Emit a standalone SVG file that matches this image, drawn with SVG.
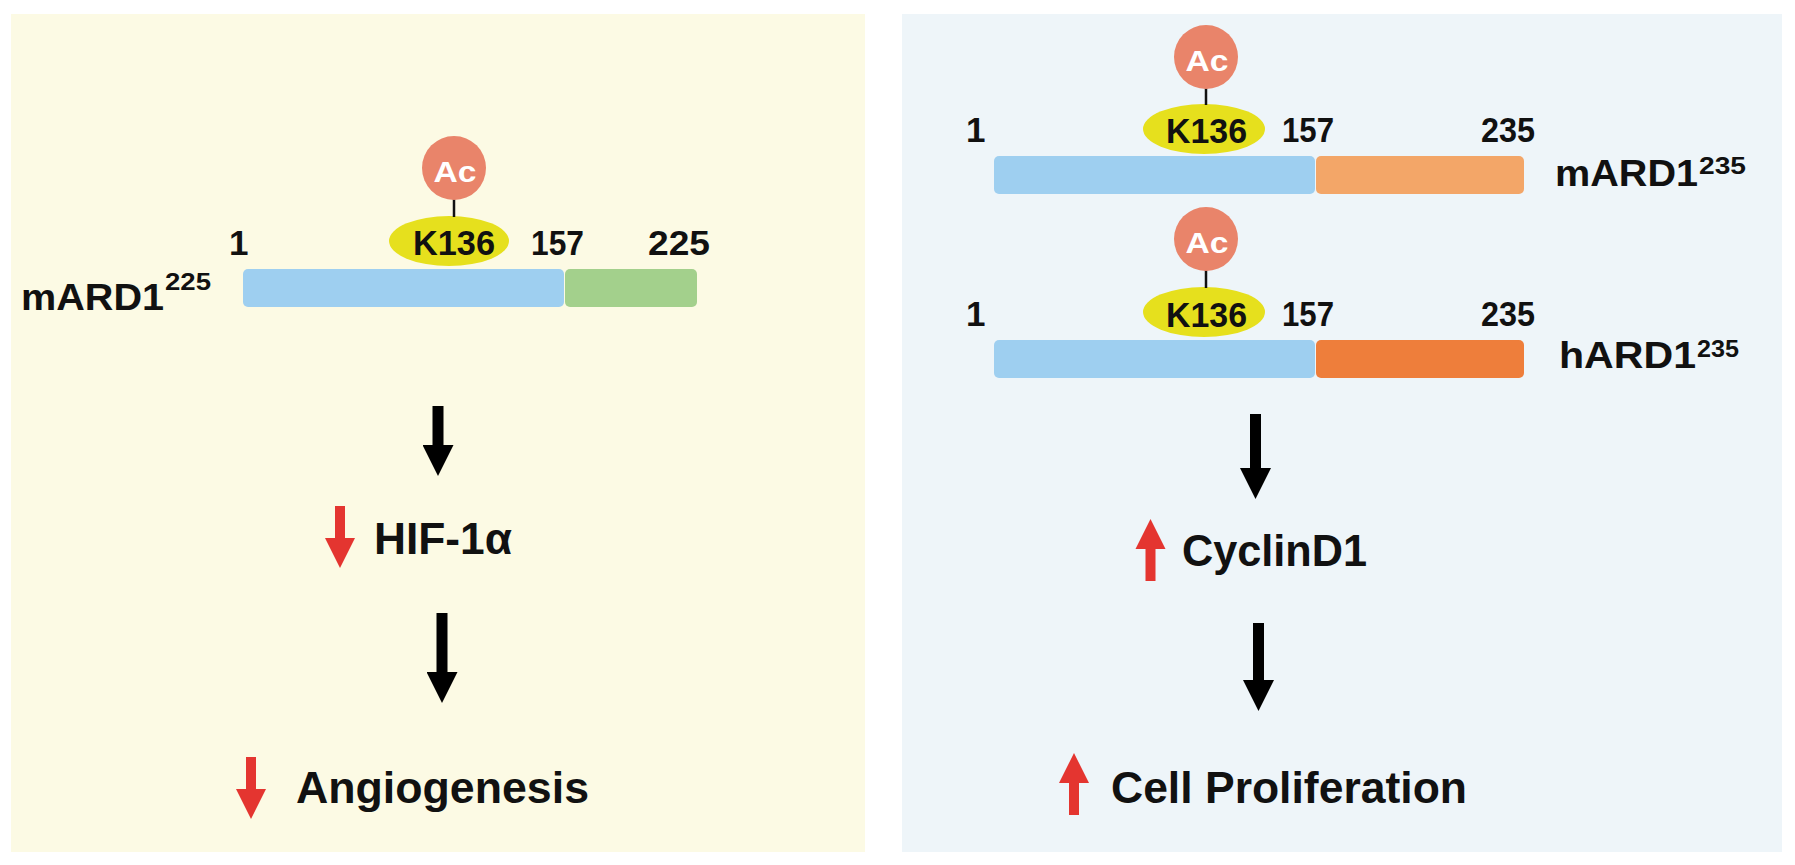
<svg xmlns="http://www.w3.org/2000/svg" xmlns:xlink="http://www.w3.org/1999/xlink" width="1795" height="865" viewBox="0 0 1795 865">
<style>
text{font-family:"Liberation Sans",Arial,sans-serif;font-weight:bold;fill:#111}
.num{font-size:35px}
.ac{font-size:29px;fill:#fff;text-anchor:middle}
.lbl{font-size:36px}
.sup{font-size:23px}
.big{font-size:45px}
.blue{fill:#9ecff0}
.k{fill:#e6e01d}
.acc{fill:#e9846a}
.tie{stroke:#111;stroke-width:2.5}
.conn{stroke:#000;stroke-width:11;marker-end:url(#ah)}
.red{fill:#e43530}
</style>
<defs>
<marker id="ah" markerUnits="userSpaceOnUse" markerWidth="31" markerHeight="31" refX="0" refY="15.5" orient="auto" viewBox="0 0 31 31">
<path d="M0,0 L31,15.5 L0,31 Z" fill="#000"/>
</marker>
<path id="redDown" d="M-5,0 H5 V32 H15 L0,62 L-15,32 H-5 Z"/>
</defs>
<rect width="1795" height="865" fill="#fff"/>
<rect id="panelLeft" x="11" y="14" width="854" height="838" fill="#fcfae4"/>
<rect id="panelRight" x="902" y="14" width="880" height="838" fill="#eef5f9"/>

<g id="left-mARD1-225">
<rect class="blue" x="243" y="269" width="321" height="38" rx="5"/>
<rect x="565" y="269" width="132" height="38" rx="5" fill="#a3d08c"/>
<ellipse class="k" cx="449" cy="241" rx="60" ry="25"/>
<line class="tie" x1="454" y1="199" x2="454" y2="217"/>
<circle class="acc" cx="454" cy="168" r="32"/>
<text class="ac" x="455" y="182" textLength="43" lengthAdjust="spacingAndGlyphs">Ac</text>
<text class="num" x="413" y="255" textLength="82" lengthAdjust="spacingAndGlyphs">K136</text>
<text class="num" x="229" y="255">1</text>
<text class="num" x="531" y="255" textLength="53" lengthAdjust="spacingAndGlyphs">157</text>
<text class="num" x="648" y="255" textLength="62" lengthAdjust="spacingAndGlyphs">225</text>
<text class="lbl" x="21" y="310" textLength="143" lengthAdjust="spacingAndGlyphs">mARD1</text>
<text class="sup" x="165" y="290" textLength="46" lengthAdjust="spacingAndGlyphs">225</text>
</g>

<g id="left-HIF1a">
<use xlink:href="#redDown" class="red" transform="translate(340,506)"/>
<text class="big" x="374" y="554" textLength="138" lengthAdjust="spacingAndGlyphs">HIF-1α</text>
</g>

<g id="left-angiogenesis">
<use xlink:href="#redDown" class="red" transform="translate(251,757)"/>
<text class="big" x="296" y="803" textLength="293" lengthAdjust="spacingAndGlyphs">Angiogenesis</text>
</g>

<g id="right-mARD1-235">
<rect class="blue" x="994" y="156" width="321" height="38" rx="5"/>
<rect x="1316" y="156" width="208" height="38" rx="5" fill="#f3a668"/>
<ellipse class="k" cx="1204" cy="129" rx="61" ry="25"/>
<line class="tie" x1="1206" y1="88" x2="1206" y2="105"/>
<circle class="acc" cx="1206" cy="57" r="32"/>
<text class="ac" x="1207" y="71" textLength="43" lengthAdjust="spacingAndGlyphs">Ac</text>
<text class="num" x="1166" y="143" textLength="81" lengthAdjust="spacingAndGlyphs">K136</text>
<text class="num" x="966" y="142">1</text>
<text class="num" x="1282" y="142" textLength="52" lengthAdjust="spacingAndGlyphs">157</text>
<text class="num" x="1481" y="142" textLength="54" lengthAdjust="spacingAndGlyphs">235</text>
<text class="lbl" x="1555" y="186" textLength="143" lengthAdjust="spacingAndGlyphs">mARD1</text>
<text class="sup" x="1699" y="174" textLength="47" lengthAdjust="spacingAndGlyphs">235</text>
</g>

<g id="right-hARD1-235">
<rect class="blue" x="994" y="340" width="321" height="38" rx="5"/>
<rect x="1316" y="340" width="208" height="38" rx="5" fill="#ee7e3b"/>
<ellipse class="k" cx="1204" cy="312" rx="61" ry="25"/>
<line class="tie" x1="1206" y1="270" x2="1206" y2="288"/>
<circle class="acc" cx="1206" cy="239" r="32"/>
<text class="ac" x="1207" y="253" textLength="43" lengthAdjust="spacingAndGlyphs">Ac</text>
<text class="num" x="1166" y="327" textLength="81" lengthAdjust="spacingAndGlyphs">K136</text>
<text class="num" x="966" y="326">1</text>
<text class="num" x="1282" y="326" textLength="52" lengthAdjust="spacingAndGlyphs">157</text>
<text class="num" x="1481" y="326" textLength="54" lengthAdjust="spacingAndGlyphs">235</text>
<text class="lbl" x="1559" y="368" textLength="137" lengthAdjust="spacingAndGlyphs">hARD1</text>
<text class="sup" x="1697" y="357" textLength="42" lengthAdjust="spacingAndGlyphs">235</text>
</g>

<g id="right-cyclinD1">
<use xlink:href="#redDown" class="red" transform="translate(1150.5,581) scale(1,-1)"/>
<text class="big" x="1182" y="566" textLength="185" lengthAdjust="spacingAndGlyphs">CyclinD1</text>
</g>

<g id="right-cell-proliferation">
<use xlink:href="#redDown" class="red" transform="translate(1074,815) scale(1,-1)"/>
<text class="big" x="1111" y="803" textLength="356" lengthAdjust="spacingAndGlyphs">Cell Proliferation</text>
</g>

<g id="connectors">
<line class="conn" x1="438" y1="406" x2="438" y2="445"/>
<line class="conn" x1="442" y1="613" x2="442" y2="672"/>
<line class="conn" x1="1255.5" y1="414" x2="1255.5" y2="468"/>
<line class="conn" x1="1258.5" y1="623" x2="1258.5" y2="680"/>
</g>
</svg>
